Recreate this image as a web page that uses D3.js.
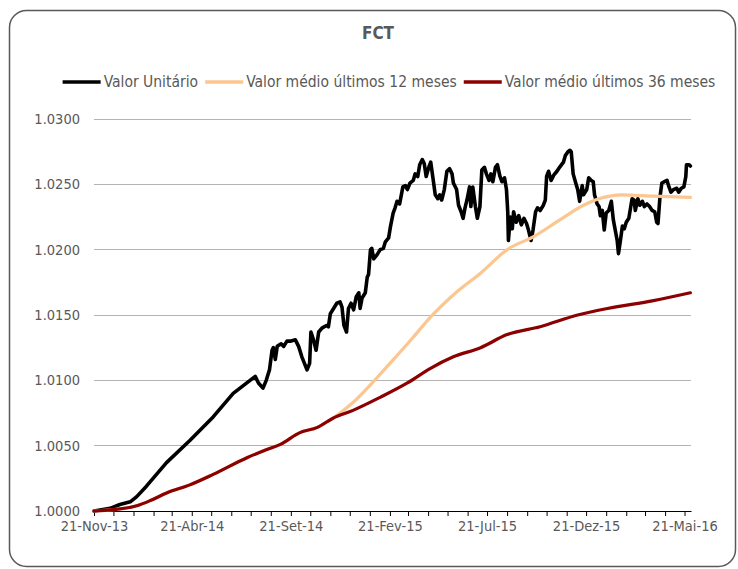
<!DOCTYPE html>
<html>
<head>
<meta charset="utf-8">
<script src="https://cdn.jsdelivr.net/npm/d3@7"></script>
<style>
  body { margin: 0; background: #fff; }
  text { font-family: "DejaVu Sans Condensed", "DejaVu Sans", sans-serif; font-stretch: condensed; }
</style>
</head>
<body>
<div id="chart"></div>
<script>
// Valor Unitário (unit value)
var unitDates = [
  "2013-11-21","2013-12-16","2013-12-31","2014-01-16","2014-01-26","2014-02-10","2014-03-13","2014-04-18",
  "2014-05-24","2014-06-24","2014-07-20","2014-07-28","2014-08-02","2014-08-09","2014-08-14","2014-08-19",
  "2014-08-23","2014-08-25","2014-08-28","2014-08-31","2014-09-06","2014-09-10","2014-09-15","2014-09-20",
  "2014-09-28","2014-10-03","2014-10-08","2014-10-16","2014-10-20","2014-10-22","2014-10-26","2014-10-30",
  "2014-11-03","2014-11-08","2014-11-15","2014-11-18","2014-11-21","2014-11-26","2014-12-01","2014-12-06",
  "2014-12-09","2014-12-12","2014-12-16","2014-12-19","2014-12-23","2014-12-27","2014-12-31","2015-01-04",
  "2015-01-06","2015-01-09","2015-01-14","2015-01-17","2015-01-19","2015-01-22","2015-01-24","2015-01-27",
  "2015-02-01","2015-02-06","2015-02-11","2015-02-14","2015-02-19","2015-02-22","2015-02-26","2015-03-01",
  "2015-03-04","2015-03-08","2015-03-13","2015-03-17","2015-03-20","2015-03-24","2015-03-29","2015-04-01",
  "2015-04-05","2015-04-08","2015-04-12","2015-04-15","2015-04-18","2015-04-22","2015-04-25","2015-04-29",
  "2015-05-02","2015-05-06","2015-05-09","2015-05-12","2015-05-16","2015-05-20","2015-05-24","2015-05-28",
  "2015-05-30","2015-06-04","2015-06-07","2015-06-11","2015-06-14","2015-06-17","2015-06-20","2015-06-24",
  "2015-06-26","2015-06-29","2015-07-03","2015-07-06","2015-07-10","2015-07-13","2015-07-17","2015-07-20",
  "2015-07-24","2015-07-27","2015-07-30","2015-08-03","2015-08-06","2015-08-10","2015-08-13","2015-08-17",
  "2015-08-20","2015-08-22","2015-08-23","2015-08-26","2015-08-29","2015-08-31","2015-09-04","2015-09-08",
  "2015-09-12","2015-09-16","2015-09-20","2015-09-23","2015-09-27","2015-09-30","2015-10-04","2015-10-07",
  "2015-10-11","2015-10-16","2015-10-19","2015-10-21","2015-10-24","2015-10-28","2015-11-01","2015-11-06",
  "2015-11-10","2015-11-16","2015-11-19","2015-11-23","2015-11-26","2015-11-28","2015-12-01","2015-12-05",
  "2015-12-08","2015-12-11","2015-12-15","2015-12-17","2015-12-22","2015-12-25","2015-12-29","2016-01-01",
  "2016-01-03","2016-01-07","2016-01-10","2016-01-12","2016-01-15","2016-01-18","2016-01-21","2016-01-25",
  "2016-01-29","2016-02-01","2016-02-04","2016-02-07","2016-02-09","2016-02-12","2016-02-15","2016-02-18",
  "2016-02-21","2016-02-25","2016-02-28","2016-03-01","2016-03-04","2016-03-06","2016-03-10","2016-03-13",
  "2016-03-17","2016-03-20","2016-03-24","2016-03-28","2016-04-01","2016-04-05","2016-04-08","2016-04-10",
  "2016-04-13","2016-04-16","2016-04-20","2016-04-24","2016-04-27","2016-04-30","2016-05-04","2016-05-09",
  "2016-05-12","2016-05-16","2016-05-20","2016-05-23","2016-05-24","2016-05-28","2016-05-30"
];
var unitValues = [
  1.0000,1.0002,1.0005,1.0007,1.0011,1.0019,1.0037,1.0054,
  1.0072,1.0090,1.0100,1.0103,1.0098,1.0094,1.0100,1.0108,
  1.0123,1.0125,1.0116,1.0126,1.0128,1.0126,1.0130,1.0130,
  1.0131,1.0126,1.0118,1.0108,1.0113,1.0137,1.0131,1.0123,
  1.0137,1.0140,1.0142,1.0141,1.0151,1.0155,1.0159,1.0160,
  1.0156,1.0142,1.0137,1.0155,1.0159,1.0154,1.0164,1.0167,
  1.0155,1.0163,1.0167,1.0179,1.0181,1.0200,1.0201,1.0193,
  1.0196,1.0200,1.0201,1.0206,1.0209,1.0218,1.0228,1.0232,
  1.0237,1.0235,1.0248,1.0249,1.0246,1.0251,1.0253,1.0258,
  1.0256,1.0265,1.0269,1.0266,1.0256,1.0263,1.0267,1.0253,
  1.0242,1.0239,1.0242,1.0238,1.0246,1.0260,1.0262,1.0258,
  1.0251,1.0246,1.0234,1.0229,1.0224,1.0232,1.0238,1.0248,
  1.0233,1.0248,1.0233,1.0224,1.0233,1.0261,1.0263,1.0258,
  1.0253,1.0258,1.0252,1.0263,1.0265,1.0256,1.0252,1.0255,
  1.0246,1.0229,1.0207,1.0225,1.0216,1.0229,1.0221,1.0226,
  1.0219,1.0224,1.0220,1.0215,1.0207,1.0215,1.0229,1.0232,
  1.0230,1.0234,1.0238,1.0256,1.0260,1.0253,1.0257,1.0260,
  1.0263,1.0267,1.0272,1.0275,1.0276,1.0275,1.0258,1.0251,
  1.0246,1.0237,1.0249,1.0242,1.0246,1.0255,1.0253,1.0252,
  1.0242,1.0235,1.0233,1.0226,1.0230,1.0215,1.0228,1.0230,
  1.0237,1.0223,1.0215,1.0207,1.0197,1.0207,1.0218,1.0216,
  1.0221,1.0224,1.0233,1.0239,1.0238,1.0230,1.0239,1.0234,
  1.0237,1.0233,1.0235,1.0233,1.0230,1.0229,1.0221,1.0220,
  1.0240,1.0251,1.0252,1.0253,1.0248,1.0244,1.0246,1.0247,
  1.0244,1.0247,1.0248,1.0256,1.0265,1.0265,1.0264
];

// Valor médio últimos 12 meses
var avg12Dates = [
  "2013-11-21","2013-12-20","2014-01-26","2014-02-16","2014-03-14","2014-04-18","2014-05-24","2014-07-16",
  "2014-08-15","2014-09-05","2014-10-05","2014-11-01","2014-11-25","2014-12-26","2015-02-01","2015-03-04",
  "2015-03-29","2015-04-24","2015-06-05","2015-07-11","2015-08-21","2015-10-01","2015-11-11","2015-12-17",
  "2016-01-17","2016-02-12","2016-04-03","2016-05-30"
];
var avg12Values = [
  1.0000,1.0001,1.0004,1.0008,1.0014,1.0020,1.0028,1.0041,
  1.0047,1.0051,1.0060,1.0064,1.0071,1.0083,1.0102,1.0119,
  1.0133,1.0148,1.0168,1.0182,1.0200,1.0210,1.0223,1.0234,
  1.0240,1.0242,1.0241,1.0240
];

// Valor médio últimos 36 meses
var avg36Dates = [
  "2013-11-21","2013-12-20","2014-01-26","2014-02-16","2014-03-14","2014-04-18","2014-05-24","2014-07-16",
  "2014-08-15","2014-09-05","2014-10-05","2014-11-01","2014-11-25","2014-12-26","2015-02-06","2015-03-20",
  "2015-04-24","2015-05-30","2015-07-11","2015-08-21","2015-10-11","2015-12-08","2016-01-23","2016-04-03",
  "2016-05-30"
];
var avg36Values = [
  1.0000,1.0001,1.0004,1.0008,1.0014,1.0020,1.0028,1.0041,
  1.0047,1.0051,1.0060,1.0064,1.0071,1.0077,1.0087,1.0098,
  1.0109,1.0118,1.0125,1.0135,1.0141,1.0150,1.0155,1.0161,
  1.0167
];

var seriesNames = ["Valor Unitário", "Valor médio últimos 12 meses", "Valor médio últimos 36 meses"];
var seriesColors = ["#000000", "#fcc690", "#8b0000"];
var yTicks = [1.0000, 1.0050, 1.0100, 1.0150, 1.0200, 1.0250, 1.0300];
var xLabelDates = ["2013-11-21","2014-04-21","2014-09-21","2015-02-21","2015-07-21","2015-12-21","2016-05-21"];
var xTickLabels = ["21-Nov-13","21-Abr-14","21-Set-14","21-Fev-15","21-Jul-15","21-Dez-15","21-Mai-16"];

var W = 738, H = 569;
var parse = d3.timeParse("%Y-%m-%d");

function toPoints(dates, values) {
  return dates.map(function(d, i) { return {date: parse(d), value: values[i]}; });
}

var svg = d3.select("#chart").append("svg")
    .attr("width", W)
    .attr("height", H);

// frame
svg.append("rect")
    .attr("x", 9.5).attr("y", 10.5)
    .attr("width", 726).attr("height", 556)
    .attr("rx", 17).attr("ry", 17)
    .attr("fill", "#fff")
    .attr("stroke", "#595959")
    .attr("stroke-width", 1.5);

var x = d3.scaleTime()
    .domain([parse("2013-11-21"), parse("2016-05-31")])
    .range([94, 691]);

var y = d3.scaleLinear()
    .domain([1.0, 1.03])
    .range([511, 119]);

// gridlines
svg.append("g")
    .selectAll("line")
    .data(yTicks.slice(1))
    .enter()
    .append("line")
    .attr("x1", x.range()[0])
    .attr("x2", x.range()[1])
    .attr("y1", function(d) { return y(d); })
    .attr("y2", function(d) { return y(d); })
    .attr("stroke", "#b4b4b4")
    .attr("stroke-width", 1)
    .attr("shape-rendering", "crispEdges");

// y axis labels
var yAxis = svg.append("g")
    .attr("transform", "translate(" + x.range()[0] + ",0)")
    .call(d3.axisLeft(y).tickValues(yTicks).tickFormat(d3.format(".4f")).tickSize(0).tickPadding(14));
yAxis.select(".domain").remove();
yAxis.selectAll("text")
    .attr("font-size", 14.5)
    .attr("fill", "#595959")
    .style("font-family", null);

// x axis: a tick on the 21st of every month, labels every 5 months
var monthTicks = d3.timeMonth.range(parse("2013-11-01"), parse("2016-05-02"))
    .map(function(d) { return d3.timeDay.offset(d, 20); });

var labelMap = {};
xLabelDates.forEach(function(d, i) { labelMap[+parse(d)] = xTickLabels[i]; });

var xAxis = svg.append("g")
    .attr("transform", "translate(0," + y(1.0) + ")")
    .call(d3.axisBottom(x)
        .tickValues(monthTicks)
        .tickFormat(function(d) { return labelMap[+d] || ""; })
        .tickSize(5)
        .tickSizeOuter(0)
        .tickPadding(5));
xAxis.select(".domain").attr("stroke", "#000").attr("stroke-width", 1.2);
xAxis.selectAll(".tick line").attr("stroke", "#000");
xAxis.selectAll("text")
    .attr("font-size", 14.5)
    .attr("fill", "#595959")
    .style("font-family", null);

// series
var series = [
  toPoints(unitDates, unitValues),
  toPoints(avg12Dates, avg12Values),
  toPoints(avg36Dates, avg36Values)
];

var lineRaw = d3.line()
    .x(function(d) { return x(d.date); })
    .y(function(d) { return y(d.value); });
var lineSmooth = d3.line()
    .curve(d3.curveMonotoneX)
    .x(function(d) { return x(d.date); })
    .y(function(d) { return y(d.value); });

series.forEach(function(s, i) {
  svg.append("path")
      .datum(s)
      .attr("d", i === 0 ? lineRaw : lineSmooth)
      .attr("fill", "none")
      .attr("stroke", seriesColors[i])
      .attr("stroke-width", i === 0 ? 3.6 : 3.2)
      .attr("stroke-linejoin", "round")
      .attr("stroke-linecap", "round");
});

// title
svg.append("text")
    .attr("x", 378)
    .attr("y", 39)
    .attr("text-anchor", "middle")
    .attr("font-size", 17)
    .attr("font-weight", "bold")
    .attr("fill", "#595959")
    .text("FCT");

// legend
var legend = svg.append("g");
var cursor = 0;
seriesNames.forEach(function(name, i) {
  var item = legend.append("g").attr("transform", "translate(" + cursor + ",0)");
  item.append("line")
      .attr("x1", 0).attr("x2", 38)
      .attr("y1", 0).attr("y2", 0)
      .attr("stroke", seriesColors[i])
      .attr("stroke-width", 3.5);
  var t = item.append("text")
      .attr("x", 41)
      .attr("y", 0)
      .attr("dy", "0.35em")
      .attr("font-size", 15.5)
      .attr("fill", "#595959")
      .text(name);
  cursor += 41 + t.node().getComputedTextLength() + 7;
});
var legendWidth = cursor - 7;
legend.attr("transform", "translate(" + (389 - legendWidth / 2) + ",82)");
</script>
</body>
</html>
